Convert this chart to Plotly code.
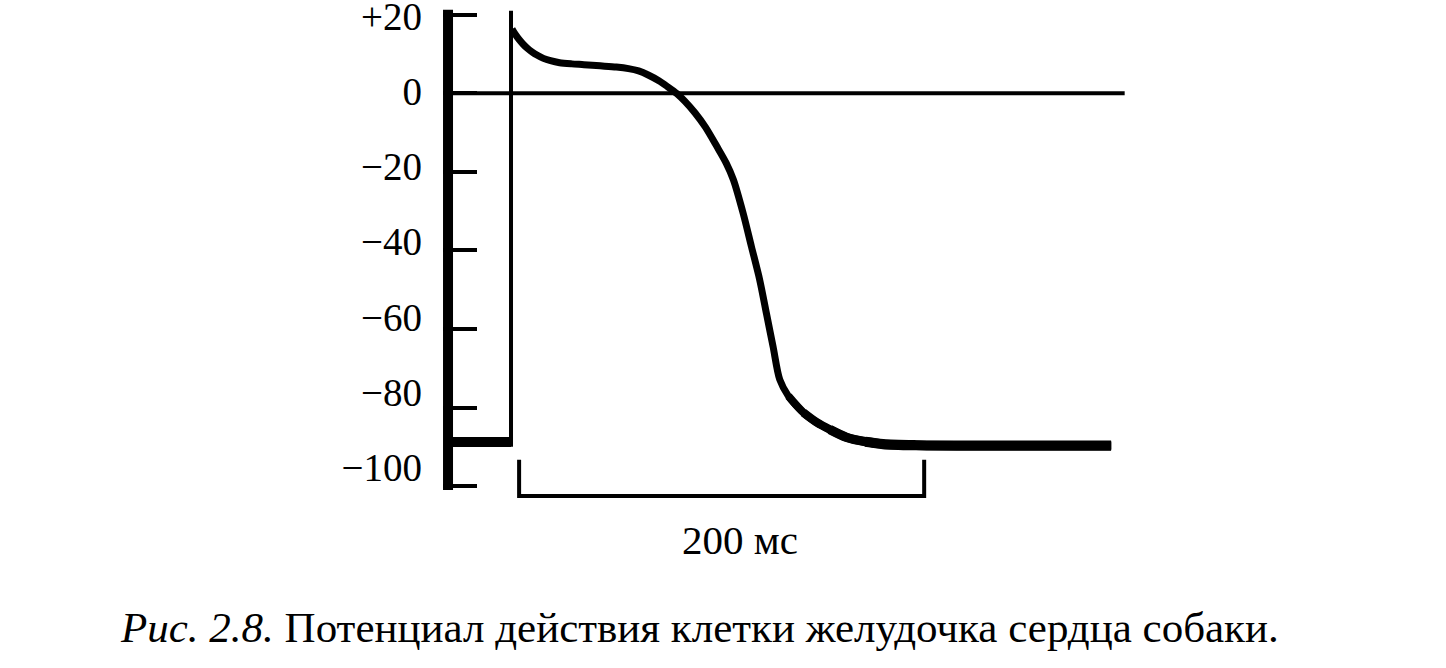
import plotly.graph_objects as go

# ---- data (time in ms, membrane potential in mV) ----
rest_t = [-31.0, 0.0]
rest_v = [-88.8, -88.8]

upstroke_t = [0.0, 0.0]
upstroke_v = [-90.0, 21.0]

ap_t = [0.5, 2.0, 4.0, 6.0, 8.0, 10.5, 13.0, 16.0, 19.5, 24.0, 30.0, 36.0, 44.0,
        52.0, 58.0, 63.0, 68.0, 73.0, 77.0, 82.0, 86.0, 90.9, 96.0, 101.6, 106.2,
        109.8, 114.6, 118.7, 122.8, 126.1, 129.4, 132.7, 137.0, 144.4, 151.0,
        157.4, 165.7, 175.0, 183.7, 200.0, 220.0, 296.3]
ap_v = [16.4, 15.1, 13.7, 12.5, 11.5, 10.5, 9.7, 8.9, 8.3, 7.8, 7.5, 7.3, 7.0,
        6.7, 6.3, 5.7, 4.6, 3.2, 1.8, -0.1, -2.1, -5.0, -8.6, -13.5, -17.7,
        -22.0, -30.5, -39.0, -47.5, -56.0, -64.5, -72.9, -77.1, -81.3, -83.8,
        -85.6, -87.6, -88.7, -89.3, -89.6, -89.7, -89.7]

zero_t = [-31.0, 303.0]
zero_v = [0.0, 0.0]

spine_t = [-31.1, -31.1]
spine_v = [-101.0, 21.3]

bar_t = [4.0, 4.0, 204.0, 204.0]
bar_v = [-93.3, -102.5, -102.5, -93.3]
bar_label = "200 мс"

tick_vals = [20, 0, -20, -40, -60, -80, -100]
tick_text = ["+20", "0", "\u221220", "\u221240", "\u221260", "\u221280", "\u2212100"]

caption_italic = "Рис. 2.8."
caption_rest = "Потенциал действия клетки желудочка сердца собаки."

FONT = "Liberation Serif, Times New Roman, serif"
BLACK = "#000000"

fig = go.Figure()

def line(x, y, w):
    fig.add_trace(go.Scatter(x=x, y=y, mode="lines",
                             line=dict(color=BLACK, width=w, shape="spline", smoothing=0.8),
                             hoverinfo="skip", showlegend=False))

def straight(x, y, w):
    fig.add_trace(go.Scatter(x=x, y=y, mode="lines",
                             line=dict(color=BLACK, width=w),
                             hoverinfo="skip", showlegend=False))

straight(zero_t, zero_v, 4)
straight(spine_t, spine_v, 10)
straight(rest_t, rest_v, 10)
straight(upstroke_t, upstroke_v, 4)
line(ap_t, ap_v, 7)
# the pen trace gets gradually heavier along the slow tail
for start, w in [(32, 7.8), (33, 8.6), (35, 9.4), (37, 10.2)]:
    line(ap_t[start:], ap_v[start:], w)
straight(bar_t, bar_v, 4)

fig.add_annotation(x=113, y=-113.6, xref="x", yref="y", text=bar_label,
                   showarrow=False, font=dict(family=FONT, size=41, color=BLACK),
                   xanchor="center", yanchor="middle")

fig.add_annotation(x=0.371, y=-0.152, xref="paper", yref="paper",
                   text="<i>" + caption_italic + "</i> " + caption_rest,
                   showarrow=False, font=dict(family=FONT, size=43, color=BLACK),
                   xanchor="center", yanchor="middle")

L, R_edge = 443, 1135
fig.update_layout(
    width=1446, height=668,
    margin=dict(l=L, r=1446 - R_edge, t=3.1, b=122.55, pad=0, autoexpand=False),
    paper_bgcolor="white", plot_bgcolor="white",
    xaxis=dict(range=[-33.58, 308.1], visible=False, fixedrange=True, automargin=False),
    # tick marks of the scale
    yaxis=dict(range=[-115, 23], showgrid=False, zeroline=False, showline=False,
               automargin=False, tickvals=tick_vals, showticklabels=False,
               ticks="inside", ticklen=34, tickwidth=4, tickcolor=BLACK,
               fixedrange=True),
    # tick labels of the scale (printed slightly more compactly than the marks)
    yaxis2=dict(overlaying="y", side="left", anchor="x",
                range=[-120.68, 23.56], showgrid=False, zeroline=False, showline=False,
                automargin=False, tickvals=tick_vals, ticktext=tick_text, ticks="",
                ticklabelstandoff=20, ticklabeloverflow="allow",
                tickfont=dict(family=FONT, size=39, color=BLACK), fixedrange=True),
)

# invisible trace so the label axis is rendered
fig.add_trace(go.Scatter(x=[None], y=[None], yaxis="y2", mode="lines",
                         hoverinfo="skip", showlegend=False))

fig.write_html("out.html", config={"displayModeBar": False},
               post_script="document.body.style.margin='0';document.body.style.overflow='hidden';")
